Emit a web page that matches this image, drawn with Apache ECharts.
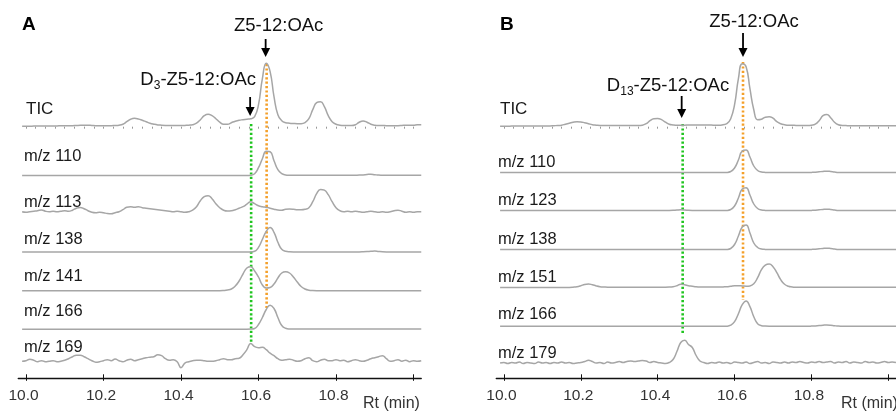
<!DOCTYPE html>
<html><head><meta charset="utf-8">
<script src="https://cdn.jsdelivr.net/npm/echarts@6/dist/echarts.min.js"></script>
<style>html,body{margin:0;padding:0;background:#fff}#c{width:896px;height:411px}</style>
</head><body><div id="c"></div>
<script>
// ---------- DATA ----------
const rt = [9.99,10.00,10.01,10.02,10.03,10.04,10.05,10.06,10.07,10.08,
10.09,10.10,10.11,10.12,10.13,10.14,10.15,10.16,10.17,10.18,
10.19,10.20,10.21,10.22,10.23,10.24,10.25,10.26,10.27,10.28,
10.29,10.30,10.31,10.32,10.33,10.34,10.35,10.36,10.37,10.38,
10.39,10.40,10.41,10.42,10.43,10.44,10.45,10.46,10.47,10.48,
10.49,10.50,10.51,10.52,10.53,10.54,10.55,10.56,10.57,10.58,
10.59,10.60,10.61,10.62,10.63,10.64,10.65,10.66,10.67,10.68,
10.69,10.70,10.71,10.72,10.73,10.74,10.75,10.76,10.77,10.78,
10.79,10.80,10.81,10.82,10.83,10.84,10.85,10.86,10.87,10.88,
10.89,10.90,10.91,10.92,10.93,10.94,10.95,10.96,10.97,10.98,
10.99,11.00,11.01,11.02];

const tickValues = [10.0,10.2,10.4,10.6,10.8,11.0];
const tickLabels = ['10.0','10.2','10.4','10.6','10.8'];

// Panel A
const labelsA = ['TIC','m/z 110','m/z 113','m/z 138','m/z 141','m/z 166','m/z 169'];
const ticA = [0.5,0.5,0.5,0.6,0.6,0.7,0.7,0.8,0.8,0.8,
1,1,1,1,1.2,1.4,1.5,1.5,1.2,1,
1,1,1,1,1.2,1.5,2.5,5,7.5,8.4,
7.8,6.5,5,3.5,2.5,1.8,1.5,1.3,1.2,1.2,
1.2,1.2,1.3,1.5,2,3.5,7,11,12.4,11,
8,4.5,2.5,2.5,4,5.5,6.5,7,7.5,8,
10,22,48,63.5,55,30,12,6,4,3.5,
3.2,3,3,4,8,17,24,25,20,11,
5,2.5,1.5,1.2,1.2,1.2,2,4.5,5.7,4.5,
2.5,1.5,1.2,1.2,1,1,1,1,1.2,1.5,
1.5,1.5,2,2];
const mz110A = [0.3,0.3,0.3,0.3,0.3,0.3,0.3,0.3,0.3,0.3,
0.3,0.3,0.3,0.3,0.3,0.3,0.3,0.3,0.3,0.3,
0.3,0.3,0.3,0.3,0.3,0.3,0.3,0.3,0.3,0.3,
0.3,0.3,0.3,0.3,0.3,0.3,0.3,0.3,0.3,0.3,
0.3,0.3,0.3,0.3,0.3,0.3,0.3,0.3,0.3,0.3,
0.3,0.3,0.3,0.3,0.3,0.3,0.3,0.3,0.3,0.5,
2,8,17,24.5,24,15,6,2,0.8,0.5,
0.4,0.4,0.4,0.4,0.4,0.4,0.4,0.4,0.4,0.4,
0.4,0.4,0.4,0.4,0.4,0.4,0.5,0.6,0.8,1.2,
1.5,1,0.6,0.5,0.4,0.4,0.4,0.4,0.4,0.4,
0.4,0.4,0.4,0.4];
const mz113A = [1,0.5,1,1.5,2,2.7,1.5,1,1.5,1,
1.5,2,1.5,2.5,4.5,5.3,4,2,0.5,0,
0.5,0,-0.8,-1,0,1,3,5.5,6,5.5,
6,5,4.5,4,3.5,3,2.5,2,1.5,1,
1.5,1,0.5,1,2.5,6,12,16,17,14,
9,5,2.5,1.7,2,3,4.5,6,8.5,11,
9,7,6,5.3,4.5,3.5,2.7,2.5,3.5,3.7,
3.5,3,3,3.5,5,11,19,23.3,22.5,18,
11,5,2,1,1.5,1,1.5,1,0.5,1,
1.5,1,0.5,1,0.5,1,2,2.5,1.5,0.5,
1,0.5,1,1];
const mz138A = [0.3,0.3,0.3,0.3,0.3,0.3,0.3,0.3,0.3,0.3,
0.3,0.3,0.3,0.3,0.3,0.3,0.3,0.3,0.3,0.3,
0.3,0.3,0.3,0.3,0.3,0.3,0.3,0.3,0.3,0.3,
0.3,0.3,0.3,0.3,0.3,0.3,0.3,0.3,0.3,0.3,
0.3,0.3,0.3,0.3,0.3,0.3,0.3,0.3,0.3,0.3,
0.3,0.3,0.3,0.3,0.3,0.3,0.3,0.3,0.3,0.3,
1,5,13,21,24.7,20,10,3,1,0.5,
0.4,0.4,0.4,0.4,0.4,0.4,0.4,0.4,0.4,0.4,
0.4,0.4,0.4,0.4,0.4,0.4,0.4,0.4,0.5,0.7,
1,1.2,0.8,0.5,0.4,0.4,0.4,0.4,0.4,0.4,
0.4,0.4,0.4,0.4];
const mz141A = [0.3,0.3,0.3,0.3,0.3,0.3,0.3,0.3,0.3,0.3,
0.3,0.3,0.3,0.3,0.3,0.3,0.3,0.3,0.3,0.3,
0.3,0.3,0.3,0.3,0.3,0.3,0.3,0.3,0.3,0.3,
0.3,0.3,0.3,0.3,0.3,0.3,0.3,0.3,0.3,0.3,
0.3,0.3,0.3,0.3,0.3,0.3,0.3,0.3,0.3,0.3,
0.3,0.3,0.5,1,2,5,10,17,23,24.3,
20,14,6,3,3.5,7,13,18,19.3,18,
14,9,4.5,2,0.8,0.4,0.3,0.3,0.3,0.3,
0.3,0.3,0.3,0.3,0.3,0.3,0.3,0.3,0.3,0.3,
0.3,0.3,0.3,0.3,0.3,0.3,0.3,0.3,0.3,0.3,
0.3,0.3,0.3,0.3];
const mz166A = [0.3,0.3,0.3,0.3,0.3,0.3,0.3,0.3,0.3,0.3,
0.3,0.3,0.3,0.3,0.3,0.3,0.3,0.3,0.3,0.3,
0.3,0.3,0.3,0.3,0.3,0.3,0.3,0.3,0.3,0.3,
0.3,0.3,0.3,0.3,0.3,0.3,0.3,0.3,0.3,0.3,
0.3,0.3,0.3,0.3,0.3,0.3,0.3,0.3,0.3,0.3,
0.3,0.3,0.3,0.3,0.3,0.3,0.3,0.3,0.3,0.4,
1,5,12,20,24.3,21,12,4,1.2,0.5,
0.4,0.4,0.4,0.4,0.4,0.4,0.4,0.4,0.4,0.4,
0.4,0.4,0.4,0.4,0.4,0.4,0.4,0.4,0.4,0.4,
0.4,0.4,0.4,0.4,0.4,0.4,0.4,0.4,0.4,0.4,
0.4,0.4,0.4,0.4];
const mz169A = [0.5,1,2.5,1.5,0,1,0,0.5,1,0,
0.5,1.5,3,5,6.5,6.5,5,3,1,-0.5,
0,1,2,1,2.7,1,0,1.5,2.5,1,
2,3,4,4.5,5,7,6,3,1.5,2,
0,-6,-1.5,0,1,1.5,1.5,1,0.5,0.5,
1,2,3,2,2,3,3.5,7,12,18.3,
15,14,14.5,12,8.5,6,3,1.5,2,2.5,
1.5,0.5,1,3,4,1,0,1.5,2.5,1,
1,2,1,1.5,0,1,2,1,0.5,1.5,
3,4,5,6,3,0.5,1,2,0.5,1.5,
0,1,0.5,1];

// Panel B
const labelsB = ['TIC','m/z 110','m/z 123','m/z 138','m/z 151','m/z 166','m/z 179'];
const ticB = [0.5,0.5,0.5,0.6,0.6,0.6,0.7,0.7,0.7,0.8,
0.8,0.8,0.8,0.8,1,1.2,1.5,2.5,3.5,4.5,
5,4.8,4,3,2,1.5,1.2,1.2,1.1,1.1,
1.1,1.1,1.1,1.2,1.2,1.2,1.2,1.5,3,6,
8,8.3,7,4.5,2.5,1.8,1.5,1.5,1.5,1.7,
1.8,1.8,1.8,1.8,1.7,1.6,1.5,1.5,2,3,
8,22,48,63,60,38,17,7,7.5,9.5,
10,8.5,5,3,2,1.5,1.5,1.2,1.2,1.2,
1.2,1.5,2.5,6,11,12.3,9,4.5,2,1.3,
1.1,1,1,1,1,1,1,1,1,1,
1,1,1,1];
const mz110B = [0.4,0.4,0.4,0.4,0.4,0.4,0.4,0.4,0.4,0.4,
0.4,0.4,0.4,0.4,0.4,0.4,0.4,0.4,0.4,0.4,
0.4,0.4,0.4,0.4,0.4,0.4,0.4,0.4,0.4,0.4,
0.4,0.4,0.4,0.4,0.4,0.4,0.4,0.4,0.4,0.4,
0.4,0.4,0.4,0.4,0.4,0.4,0.4,0.4,0.4,0.4,
0.4,0.4,0.4,0.4,0.4,0.4,0.4,0.4,0.4,0.5,
1.5,5,13,22,23,16,7,2.5,1,0.6,
0.5,0.5,0.5,0.5,0.5,0.5,0.5,0.5,0.5,0.5,
0.5,0.6,0.8,1.2,1.6,1.8,1.5,1,0.6,0.5,
0.4,0.4,0.4,0.4,0.4,0.4,0.4,0.4,0.4,0.4,
0.4,0.4,0.4,0.4];
const mz123B = [0.4,0.4,0.4,0.4,0.4,0.4,0.4,0.4,0.4,0.4,
0.4,0.4,0.4,0.4,0.4,0.4,0.4,0.4,0.4,0.4,
0.4,0.4,0.4,0.4,0.4,0.4,0.4,0.4,0.4,0.4,
0.4,0.4,0.4,0.4,0.4,0.4,0.4,0.4,0.4,0.4,
0.4,0.4,0.4,0.4,0.5,0.7,1,1.2,1,0.7,
0.5,0.4,0.4,0.4,0.4,0.4,0.4,0.4,0.4,0.5,
1.5,5,13,22,23.3,16,7,2.5,1,0.6,
0.5,0.5,0.5,0.5,0.5,0.5,0.5,0.5,0.5,0.5,
0.5,0.6,0.8,1.2,1.6,1.8,1.5,1,0.6,0.5,
0.4,0.4,0.4,0.4,0.4,0.4,0.4,0.4,0.4,0.4,
0.4,0.4,0.4,0.4];
const mz138B = [0.4,0.4,0.4,0.4,0.4,0.4,0.4,0.4,0.4,0.4,
0.4,0.4,0.4,0.4,0.4,0.4,0.4,0.4,0.4,0.4,
0.4,0.4,0.4,0.4,0.4,0.4,0.4,0.4,0.4,0.4,
0.4,0.4,0.4,0.4,0.4,0.4,0.4,0.4,0.4,0.4,
0.4,0.4,0.4,0.4,0.4,0.4,0.4,0.4,0.4,0.4,
0.4,0.4,0.4,0.4,0.4,0.4,0.4,0.4,0.4,0.5,
1.5,5.5,14,23,25,17,7,2.5,1,0.6,
0.5,0.5,0.5,0.5,0.5,0.5,0.5,0.5,0.5,0.5,
0.5,0.6,0.8,1.2,1.6,1.8,1.5,1,0.6,0.5,
0.4,0.4,0.4,0.4,0.4,0.4,0.4,0.4,0.4,0.4,
0.4,0.4,0.4,0.4];
const mz151B = [0.3,0.3,0.3,0.3,0.3,0.3,0.3,0.3,0.3,0.3,
0.3,0.3,0.3,0.3,0.3,0.3,0.3,0.3,0.3,0.5,
1,2,3.3,3.7,3,1.8,1,0.7,0.5,0.5,
0.5,0.5,0.5,0.5,0.5,0.5,0.5,0.5,0.5,0.5,
0.5,0.5,0.5,0.5,0.6,1,2,3.5,3,2,
1.5,1,0.7,0.6,0.6,0.6,0.6,0.6,0.8,1,
1.5,2,2,1.8,1.5,1.8,4,10,18,22.5,
23.7,21,15,8,3.5,1.5,0.8,0.5,0.4,0.4,
0.4,0.4,0.4,0.4,0.4,0.4,0.4,0.4,0.4,0.4,
0.4,0.4,0.4,0.4,0.4,0.4,0.4,0.4,0.4,0.4,
0.4,0.4,0.4,0.4];
const mz166B = [0.4,0.4,0.4,0.4,0.4,0.4,0.4,0.4,0.4,0.4,
0.4,0.4,0.4,0.4,0.4,0.4,0.4,0.4,0.4,0.4,
0.4,0.4,0.4,0.4,0.4,0.4,0.4,0.4,0.4,0.4,
0.4,0.4,0.4,0.4,0.4,0.4,0.4,0.4,0.4,0.4,
0.4,0.4,0.4,0.4,0.4,0.4,0.4,0.4,0.4,0.4,
0.4,0.4,0.4,0.4,0.4,0.4,0.4,0.4,0.4,0.5,
1.5,5,13,22,25.7,20,10,3,1,0.6,
0.5,0.5,0.5,0.5,0.5,0.5,0.5,0.5,0.5,0.5,
0.5,0.6,0.8,1.2,1.5,1.7,1.5,1,0.6,0.5,
0.4,0.4,0.4,0.4,0.4,0.4,0.4,0.4,0.4,0.4,
0.4,0.4,0.4,0.4];
const mz179B = [0.5,1,0,1,0.5,1.5,0,1,0.5,0,
1.5,0.5,1,0,1,0.5,1.5,0.5,1,0,
0.5,1,2,3.3,2,0.5,1,0,1.5,0.5,
1,2,1,2,2.5,2,2.5,3,2.5,1,
2,1,0.5,0,1,4,12,21,23.3,19,
16,8,2.5,1,0,1,0.5,1.5,0.5,1,
0,1.5,1,0.5,1.5,0,1,2,0.5,1,
0,1.5,1,0.5,1.5,0.5,1.5,1,2,1,
0.5,1.5,1,2,1,1.5,2,0.5,1.5,1,
2,0.5,1.5,1,0.5,2,1,1.5,0.5,1,
2,1,1.5,1];

// marked retention times
const z5RtA = 10.621, d3RtA = 10.581;
const z5RtB = 10.622, d13RtB = 10.465;

// ---------- LAYOUT ----------
const FONT = 'Liberation Sans, Arial, Helvetica, sans-serif';
const X_MIN = 9.98, X_MAX = 11.02, GRID_W = 403;
const panels = [
  {left: 18.25, baselines: [126.7,175.7,212.7,252.3,291,329.5,361.7], labelX: 24,
   labelY: [109,156.5,202,239,276,311,347.5], axisY: 378.3,
   labels: labelsA, traces: [ticA,mz110A,mz113A,mz138A,mz141A,mz166A,mz169A]},
  {left: 496.25, baselines: [126.7,173,211,250,287.7,326.7,363.5], labelX: 498,
   labelY: [109,162,200,239,277.5,314.5,353], axisY: 378.3,
   labels: labelsB, traces: [ticB,mz110B,mz123B,mz138B,mz151B,mz166B,mz179B]}
];
// small baseline ticks under the TIC trace
const ticMinorTicks = [];
for (let v = 10.0; v <= 11.0001; v += 0.025) ticMinorTicks.push(+v.toFixed(3));

const grid = [], xAxis = [], yAxis = [], series = [];
panels.forEach((p, pi) => {
  p.traces.forEach((d, k) => {
    const g = grid.length;
    grid.push({left: p.left, width: GRID_W, top: p.baselines[k] - 70, height: 80});
    xAxis.push({gridIndex: g, type: 'value', min: X_MIN, max: X_MAX, show: false});
    yAxis.push({gridIndex: g, type: 'value', min: -10, max: 70, show: false});
    series.push({type: 'line', xAxisIndex: g, yAxisIndex: g, silent: true,
      showSymbol: false, smooth: 0.5, clip: false,
      lineStyle: {color: '#a6a6a6', width: 1.5},
      data: rt.map((t, i) => [t, d[i]])});
  });
  // TIC minor ticks
  const gt = grid.length;
  grid.push({left: p.left, width: GRID_W, top: p.baselines[0] - 10, height: 10});
  xAxis.push({gridIndex: gt, type: 'value', min: X_MIN, max: X_MAX, position: 'bottom',
    axisLine: {show: false}, axisLabel: {show: false}, splitLine: {show: false},
    axisTick: {show: true, customValues: ticMinorTicks, inside: false, length: 2,
      lineStyle: {color: '#999', width: 1}}});
  yAxis.push({gridIndex: gt, type: 'value', show: false});
  // bottom axis
  const g = grid.length;
  p.axisGrid = g;
  grid.push({left: p.left, width: GRID_W, top: p.axisY - 40, height: 40});
  xAxis.push({gridIndex: g, type: 'value', min: X_MIN, max: X_MAX, position: 'bottom',
    axisLine: {show: true, onZero: false, lineStyle: {color: '#111', width: 1.3}},
    axisTick: {show: true, customValues: tickValues, inside: true, length: 4,
      lineStyle: {color: '#111', width: 1}},
    splitLine: {show: false},
    axisLabel: {customValues: tickLabels.map(Number), formatter: v => tickLabels.find(s => Number(s) === v) || '',
      fontSize: 15.5, color: '#333', fontFamily: FONT, margin: 9, padding: [0, 5, 0, 0]}});
  yAxis.push({gridIndex: g, type: 'value', show: false});
  // short outside ticks below axis
  const g2 = grid.length;
  grid.push({left: p.left, width: GRID_W, top: p.axisY - 40, height: 40});
  xAxis.push({gridIndex: g2, type: 'value', min: X_MIN, max: X_MAX, position: 'bottom',
    axisLine: {show: false}, axisLabel: {show: false}, splitLine: {show: false},
    axisTick: {show: true, customValues: tickValues, inside: false, length: 2.5,
      lineStyle: {color: '#111', width: 1}}});
  yAxis.push({gridIndex: g2, type: 'value', show: false});
});

const chart = echarts.init(document.getElementById('c'), null, {renderer: 'canvas'});
chart.setOption({animation: false, backgroundColor: '#fff', grid, xAxis, yAxis, series});

// ---------- ANNOTATIONS ----------
const gfx = [];
function xpx(pi, t) { return chart.convertToPixel({xAxisIndex: panels[pi].axisGrid}, t); }
function text(x, y, s, opt) {
  gfx.push({type: 'text', x, y, silent: true, style: Object.assign({text: s, fontFamily: FONT,
    fontSize: 16, fill: '#1a1a1a', align: 'left', verticalAlign: 'middle'}, opt || {})});
}
function arrow(x, y1, y2) {
  gfx.push({type: 'line', silent: true, shape: {x1: x, y1: y1, x2: x, y2: y2 - 6},
    style: {stroke: '#000', lineWidth: 1.8}});
  gfx.push({type: 'polygon', silent: true, shape: {points: [[x - 4.5, y2 - 9], [x + 4.5, y2 - 9], [x, y2]]},
    style: {fill: '#000'}});
}
function dotted(x, y1, y2, color) {
  gfx.push({type: 'line', silent: true, shape: {x1: x, y1: y1, x2: x, y2: y2},
    style: {stroke: color, lineWidth: 2.6, lineDash: [2.2, 2.2]}});
}
const GREEN = '#1fc41f', ORANGE = '#f4a02a';

// trace labels
panels.forEach(p => {
  p.labels.forEach((s, k) => text(p.labelX + (k === 0 ? 2 : 0), p.labelY[k], s, {fontSize: k === 0 ? 17 : 16.5}));
});
// panel letters
text(22, 25, 'A', {fontSize: 19, fontWeight: 'bold', fill: '#000'});
text(500, 25, 'B', {fontSize: 19, fontWeight: 'bold', fill: '#000'});
// Rt (min)
text(363, 404, 'Rt (min)', {fontSize: 16, fill: '#333'});
text(841, 404, 'Rt (min)', {fontSize: 16, fill: '#333'});

// dotted lines
dotted(xpx(0, d3RtA), 124, 343, GREEN);
dotted(xpx(0, z5RtA), 64, 308, ORANGE);
dotted(xpx(1, d13RtB), 124, 333, GREEN);
dotted(xpx(1, z5RtB), 62, 300, ORANGE);

// arrows
arrow(xpx(0, z5RtA) - 1, 39, 57);
arrow(xpx(0, d3RtA) - 1, 97, 116);
arrow(xpx(1, z5RtB), 33, 57);
arrow(xpx(1, d13RtB) - 1, 96, 118);

// annotation labels
const rich = {a: {fontSize: 18.5, fontFamily: FONT, fill: '#111', lineHeight: 20, verticalAlign: 'top'},
              s: {fontSize: 12, fontFamily: FONT, fill: '#111', lineHeight: 12, padding: [10, 0, 0, 0], verticalAlign: 'top'}};
text(xpx(0, z5RtA) + 12, 25.5, 'Z5-12:OAc', {fontSize: 18.5, align: 'center', fill: '#111'});
text(xpx(1, z5RtB) + 11, 22, 'Z5-12:OAc', {fontSize: 18.5, align: 'center', fill: '#111'});
gfx.push({type: 'text', x: 256, y: 80, silent: true,
  style: {text: '{a|D}{s|3}{a|-Z5-12:OAc}', rich, align: 'right', verticalAlign: 'middle'}});
gfx.push({type: 'text', x: 668, y: 86, silent: true,
  style: {text: '{a|D}{s|13}{a|-Z5-12:OAc}', rich, align: 'center', verticalAlign: 'middle'}});

chart.setOption({graphic: gfx});
</script></body></html>
